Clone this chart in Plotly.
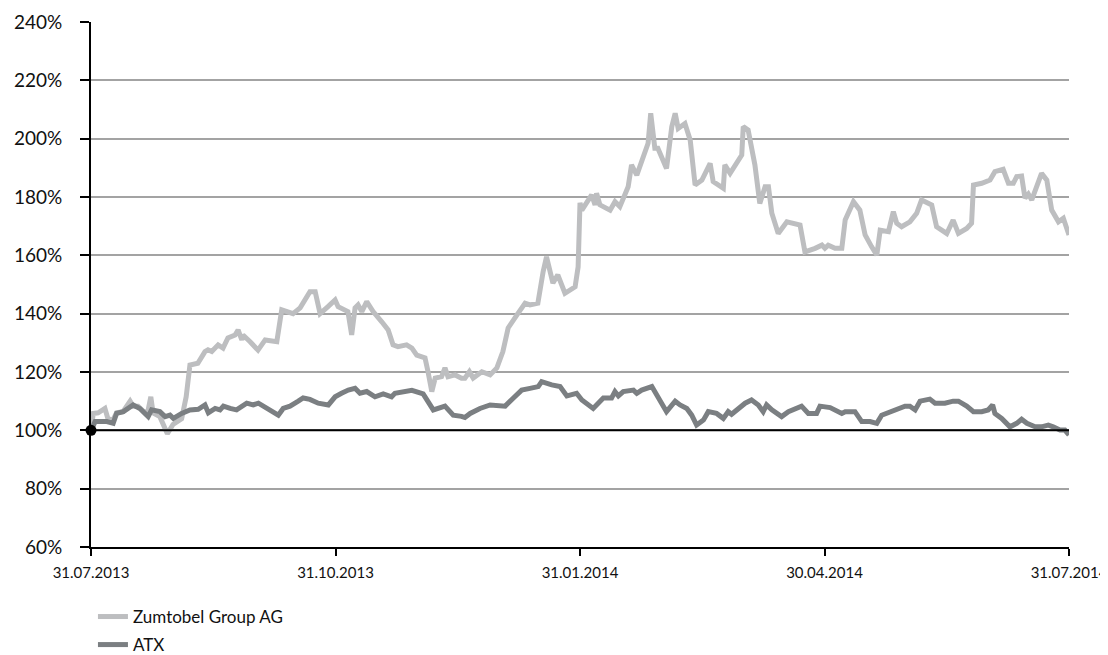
import plotly.graph_objects as go

# Trading-day index (0 = 31.07.2013, 260 = 31.07.2014)
zumtobel_day = [0, 0.6, 1.9, 3.7, 4.5, 5.8, 6.8, 8.5, 10.4, 11.2, 12.5, 14.4, 15.2, 15.9, 16.5, 18.3, 20.3, 21.8,
                24.1, 25.3, 26.3, 28.4, 30.3, 31.1, 32.1, 33.8, 35.1, 36.4, 38.3, 39.1, 40.1, 40.4, 42.3, 44.4,
                46.3, 49.4, 50.7, 52.0, 53.7, 55.6, 58.2, 59.6, 60.9, 63.0, 64.9, 65.7, 68.3, 69.3, 70.2, 71.0,
                72.0, 73.3, 75.0, 77.3, 79.0, 80.3, 81.6, 83.9, 85.3, 86.6, 88.8, 89.6, 90.6, 91.5, 93.2, 94.1,
                94.9, 96.8, 98.5, 99.4, 100.6, 101.6, 103.9, 106.1, 107.9, 109.5, 110.9, 113.2, 115.4, 116.7,
                118.8, 120.2, 121.1, 122.8, 124.1, 126.0, 128.7, 129.5, 130.0, 130.5, 131.8, 133.1, 134.0,
                134.4, 135.3, 138.0, 139.3, 140.6, 142.8, 143.7, 145.1, 146.4, 148.1, 148.8, 149.9, 150.7,
                153.0, 154.4, 155.3, 156.1, 157.9, 159.3, 160.6, 162.4, 163.7, 164.6, 165.4, 168.1, 168.5,
                169.9, 173.0, 173.4, 174.7, 176.5, 177.8, 179.2, 180.1, 181.0, 182.7, 185.0, 188.5, 189.8,
                192.5, 194.3, 195.1, 196.0, 197.8, 199.6, 200.5, 202.7, 204.4, 205.8, 207.5, 208.9, 209.8,
                212.0, 213.3, 214.2, 215.5, 217.7, 219.5, 220.8, 223.5, 224.8, 227.5, 229.2, 230.6, 232.8,
                234.1, 234.6, 236.8, 239.0, 240.3, 242.5, 243.9, 245.2, 246.1, 247.4, 248.3, 249.2, 250.1,
                252.7, 254.1, 255.4, 257.2, 258.5, 260]
zumtobel_pct = [100, 105.8, 106, 107.5, 104, 103.5, 106, 106.4, 110, 108.3, 108.3, 105.9, 107, 111.5, 106, 104.7, 98.8, 102,
                104, 111.5, 122.4, 123, 127, 127.6, 127, 129.3, 128.2, 131.7, 132.7, 134.4, 131, 132.7, 130.4, 127.5,
                131, 130.4, 141.3, 140.7, 140, 142, 147.5, 147.5, 140, 142.4, 144.7, 142.4, 140.7, 132.7, 142, 143,
                140.7, 144.1, 140.7, 137.2, 134.4, 129.3, 128.7, 129.3, 128.2, 125.8, 124.8, 120.1, 113.3, 117.9, 118.4, 121.4,
                118.4, 119, 117.9, 117.9, 120.1, 117.9, 120.1, 119, 121.4, 127, 135.1, 139.5, 143.6, 143,
                143.6, 154.4, 159.5, 150.5, 153.3, 147, 149.2, 156, 178, 175.5, 178.4, 180.7, 177.3,
                181.3, 177.3, 175.5, 178.4, 176.7, 183.5, 191, 187.5, 192.1, 198.4, 208.7, 196.7, 196.7,
                189.8, 204.1, 208.7, 203.5, 205.2, 199.5, 184.1, 185.8, 188.7, 191.5, 185.3, 183, 191,
                188.1, 194.4, 204.1, 203, 191, 177.8, 183.5, 183.5, 174.4, 167.5, 171.5, 170.4, 161.2,
                162.4, 163.5, 162.4, 163.5, 162.4, 162.4, 172.1, 178.4, 175.5, 167, 163, 160.1, 168.6,
                168.1, 175, 171, 169.8, 171.5, 174.4, 179, 177.3, 169.8, 167.5, 172.1, 167.5, 169.2,
                171, 184.1, 184.7, 185.8, 188.7, 189.5, 184.7, 184.7, 187, 187.2, 179.6, 181, 179,
                188.1, 185.8, 175.5, 171.5, 172.7, 167]

atx_day = [0, 1.1, 4.2, 5.9, 6.8, 8.6, 11.2, 13.0, 15.2, 16.1, 18.3, 19.7, 21.0, 21.9, 24.1, 26.3, 28.5, 30.3,
           31.2, 33.0, 34.3, 35.2, 37.0, 38.7, 41.4, 43.1, 44.5, 47.1, 49.8, 51.1, 52.9, 55.1, 56.4, 58.2,
           60.4, 63.1, 64.9, 66.6, 68.4, 70.2, 71.5, 73.3, 75.5, 77.7, 79.9, 80.8, 83.0, 85.3, 88.3, 90.1,
           91.0, 94.1, 96.3, 98.5, 99.4, 100.8, 103.4, 106.1, 110.1, 112.3, 114.5, 116.7, 118.9, 119.8,
           121.1, 122.5, 124.7, 125.6, 126.5, 127.3, 129.1, 130.5, 133.5, 136.2, 138.4, 139.3, 140.2,
           141.5, 144.2, 145.1, 146.4, 149.1, 150.4, 151.7, 153.0, 155.3, 156.6, 158.4, 159.7, 161.0,
           162.8, 164.1, 166.3, 168.1, 169.4, 170.3, 171.7, 173.9, 175.6, 177.4, 178.7, 179.6, 181.0,
           183.6, 185.4, 188.9, 190.7, 192.9, 193.8, 196.5, 199.6, 200.5, 203.1, 204.9, 207.1, 208.9,
           210.2, 212.4, 214.2, 216.4, 217.7, 219.1, 220.4, 223.0, 224.4, 227.0, 229.2, 230.6, 232.8,
           234.6, 236.8, 238.5, 239.7, 240.3, 242.1, 244.3, 246.1, 247.4, 248.8, 251.0, 252.7, 254.5,
           255.8, 257.6, 258.9, 260]
atx_pct = [100, 103, 103, 102.4, 105.8, 106.4, 108.7, 107.5, 104.7, 107, 106.4, 104.7, 105.2, 104.1, 105.8, 107, 107.2, 108.7,
           106, 107.5, 107, 108.3, 107.5, 107, 109.3, 108.7, 109.3, 107.5, 105.2, 107.5, 108.3, 110, 111.1, 110.6,
           109.3, 108.7, 111.5, 112.7, 113.8, 114.4, 112.7, 113.3, 111.5, 112.5, 111.5, 112.7, 113.3, 113.7, 112.5, 108.3,
           107, 108.3, 105.2, 104.8, 104.4, 105.8, 107.5, 108.7, 108.3, 111.1, 113.8, 114.4, 115, 116.7,
           116.1, 115.6, 115, 113.3, 111.8, 112.1, 112.7, 110.4, 107.5, 111.1, 111.1, 113.3, 111.8,
           113.3, 113.8, 112.7, 113.8, 115, 112.1, 108.7, 106.4, 110, 108.7, 107.5, 105.2, 101.8,
           103.5, 106.4, 105.8, 104.1, 106.4, 105.5, 107, 109.3, 110.4, 108.7, 106.4, 108.7, 107,
           104.7, 106.4, 108.3, 105.8, 105.8, 108.3, 107.8, 105.8, 106.4, 106.4, 103, 103, 102.4,
           105.2, 106.4, 107.5, 108.3, 108.3, 107, 110, 110.7, 109.3, 109.3, 110, 110, 108.3,
           106.4, 106.4, 107, 108.7, 105.8, 104.1, 101.2, 102.4, 103.8, 102.4, 101.2, 101.2, 101.8,
           101.2, 100.1, 100.1, 98.4]

tick_days = [0, 65, 130, 195, 260]
tick_labels = ["31.07.2013", "31.10.2013", "31.01.2014", "30.04.2014", "31.07.2014"]
y_ticks = [60, 80, 100, 120, 140, 160, 180, 200, 220, 240]
y_tick_labels = [f"{v}%" for v in y_ticks]
base_day = [0]
base_pct = [100]

FONT = "Lato, 'Open Sans', sans-serif"

fig = go.Figure()
fig.add_trace(go.Scatter(x=zumtobel_day, y=zumtobel_pct, mode="lines", name="Zumtobel Group AG",
                         line=dict(color="#bdbec0", width=5), legend="legend"))
fig.add_trace(go.Scatter(x=atx_day, y=atx_pct, mode="lines", name="ATX",
                         line=dict(color="#7b7f82", width=5), legend="legend2"))
fig.add_trace(go.Scatter(x=base_day, y=base_pct, mode="markers", showlegend=False,
                         marker=dict(color="black", size=11), cliponaxis=False))

fig.add_hline(y=base_pct[0], line=dict(color="black", width=2), layer="above")

legend_style = dict(x=0.002, xanchor="left", yanchor="middle", orientation="v",
                    font=dict(size=17, color="#111111"), itemwidth=30,
                    bgcolor="rgba(0,0,0,0)")

# The page adds an 8px body margin (left/top), so the figure is 8px smaller.
fig.update_layout(
    width=1100, height=647,
    margin=dict(l=83, r=39, t=14, b=108, autoexpand=False),
    plot_bgcolor="white", paper_bgcolor="white",
    font=dict(family=FONT, color="#111111"),
    showlegend=True,
    legend=dict(y=-0.1333, **legend_style),
    legend2=dict(y=-0.1867, **legend_style),
    xaxis=dict(range=[0, 260], tickvals=tick_days, ticktext=tick_labels, showgrid=False,
               showline=True, linecolor="black", linewidth=2, ticks="outside", ticklen=7,
               tickwidth=2, tickcolor="black", tickfont=dict(size=15), zeroline=False,
               automargin=False, ticklabeloverflow="allow", ticklabelstandoff=4),
    yaxis=dict(range=[60, 240], tickvals=y_ticks, ticktext=y_tick_labels, showgrid=True,
               gridcolor="#a3a3a3", gridwidth=1.5, showline=True, linecolor="black", linewidth=2,
               ticks="outside", ticklen=9, tickwidth=2, tickcolor="black", tickfont=dict(size=19),
               zeroline=False, ticklabelstandoff=14, automargin=False),
)

# Hide the page scrollbar so the full 1108px viewport width is available.
fig.write_html("out.html", post_script="document.body.style.overflow='hidden';")
